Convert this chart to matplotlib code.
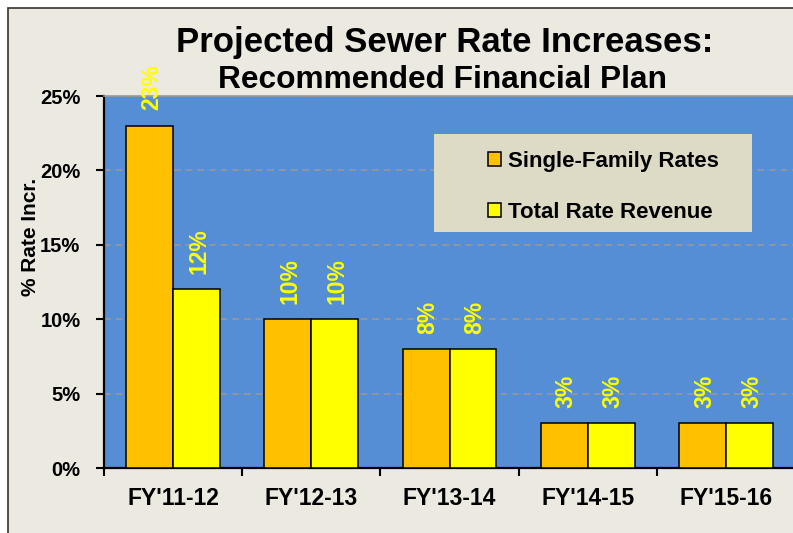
import numpy as np
import matplotlib.pyplot as plt
from matplotlib.patches import Rectangle

years = ["FY'11-12", "FY'12-13", "FY'13-14", "FY'14-15", "FY'15-16"]
single_family = [23, 10, 8, 3, 3]
total_revenue = [12, 10, 8, 3, 3]
y_ticks = [0, 5, 10, 15, 20, 25]

plt.rcParams['font.family'] = ['Liberation Sans', 'DejaVu Sans']

W, H = 793, 533
fig = plt.figure(figsize=(W / 100, H / 100), dpi=100, facecolor='white')

# outer chart frame (beige, cut off on the right/bottom)
fig.patches.append(Rectangle((8 / W, -0.05), 1.1, (H - 8) / H + 0.05, transform=fig.transFigure,
                             facecolor='#ECE9E0', edgecolor='#333333', lw=1.2, zorder=-1))

ax = fig.add_axes([104 / W, (H - 468) / H, 691 / W, 372 / H])
ax.set_facecolor('#558ED5')

x = np.arange(len(years)) + 0.5
w = 0.34
b1 = ax.bar(x - w / 2, single_family, w, color='#FFC000', edgecolor='black', lw=1.1,
            label='Single-Family Rates', zorder=3)
b2 = ax.bar(x + w / 2, total_revenue, w, color='#FFFF00', edgecolor='black', lw=1.1,
            label='Total Rate Revenue', zorder=3)

for bars in (b1, b2):
    for r in bars:
        v = r.get_height()
        ax.annotate(f'{v:.0f}%', (r.get_x() + r.get_width() / 2, v), xytext=(1.5, 11),
                    textcoords='offset points', rotation=90, ha='center', va='bottom',
                    color='#FFFF00', fontsize=16.5, fontweight='bold',
                    annotation_clip=False, zorder=4)

ax.set_xlim(0, 5)
ax.set_ylim(0, 25)
ax.set_yticks(y_ticks)
ax.set_yticklabels([f'{t}%' for t in y_ticks], fontsize=14.5, fontweight='bold')
ax.set_xticks(np.arange(6))
ax.set_xticklabels([])
ax.set_xticks(x, minor=True)
ax.set_xticklabels(years, minor=True, fontsize=16.5, fontweight='bold')
ax.tick_params(axis='x', which='major', length=6, width=1.5, direction='out')
ax.tick_params(axis='x', which='minor', length=0, pad=14)
ax.tick_params(axis='y', length=6, width=1.5, direction='out', pad=11)

ax.grid(axis='y', color='#999999', ls=(0, (4, 3)), lw=1.2, zorder=1)
for s in ('left', 'bottom'):
    ax.spines[s].set_linewidth(1.6)
ax.spines['right'].set_visible(False)
ax.spines['top'].set_color('#999999')
ax.spines['top'].set_linewidth(1.2)

ax.set_ylabel('% Rate Incr.', fontsize=15, fontweight='bold')
ax.yaxis.set_label_coords((40 - 104) / 691, (468 - 237) / 372)

# legend background box
ax.add_patch(Rectangle(((434 - 104) / 691, (468 - 232) / 372), 318 / 691, 98 / 372,
                       transform=ax.transAxes, facecolor='#DDDAC5', edgecolor='none', zorder=5))
leg = ax.legend(loc='center left', bbox_to_anchor=((488 - 104) / 691, (468 - 187) / 372),
                frameon=False, borderpad=0, borderaxespad=0, handlelength=0.6, handleheight=0.6,
                handletextpad=0.3, labelspacing=1.35, prop={'size': 16, 'weight': 'bold'})
leg.set_zorder(6)

fig.text(445 / W, (H - 52) / H, 'Projected Sewer Rate Increases:', ha='center', va='baseline',
         fontsize=25, fontweight='bold')
fig.text(443 / W, (H - 88) / H, 'Recommended Financial Plan', ha='center', va='baseline',
         fontsize=22.8, fontweight='bold')

fig.savefig('out.png', dpi=100, facecolor='white')
